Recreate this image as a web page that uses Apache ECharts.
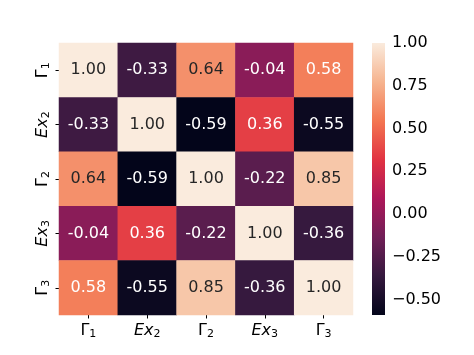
<!DOCTYPE html>
<html><head><meta charset="utf-8">
<script src="https://cdn.jsdelivr.net/npm/echarts@6/dist/echarts.min.js"></script>
<style>html,body{margin:0;padding:0;background:#fff}#c{width:474px;height:355px}</style>
</head><body><div id="c"></div>
<script>
const labels = ['{g|Γ}{s|1}', '{i|Ex}{s|2}', '{g|Γ}{s|2}', '{i|Ex}{s|3}', '{g|Γ}{s|3}'];
const row0 = [1.00, -0.33, 0.64, -0.04, 0.58];
const row1 = [-0.33, 1.00, -0.59, 0.36, -0.55];
const row2 = [0.64, -0.59, 1.00, -0.22, 0.85];
const row3 = [-0.04, 0.36, -0.22, 1.00, -0.36];
const row4 = [0.58, -0.55, 0.85, -0.36, 1.00];
const matrix = [row0, row1, row2, row3, row4];
const cbTicks = [-0.5, -0.25, 0, 0.25, 0.5, 0.75, 1.0];
const vmin = -0.59, vmax = 1.00;
const rocket = ['#03051a', '#35193e', '#701f57', '#ad1759', '#e13342', '#f37651', '#f6b48f', '#faebdd'];

const data = [];
matrix.forEach((row, r) => row.forEach((v, c) => { data.push([c, r, v]); }));
const rich = {
  g: { fontSize: 16, fontFamily: 'DejaVu Sans', color: '#000' },
  i: { fontSize: 16, fontFamily: 'DejaVu Sans', fontStyle: 'italic', color: '#000' },
  s: { fontSize: 11, fontFamily: 'DejaVu Sans', color: '#000', padding: [7, 0, 0, 0] }
};
const stops = rocket.map((c, i) => ({ offset: 1 - i / (rocket.length - 1), color: c }));
const chart = echarts.init(document.getElementById('c'));
chart.setOption({
  animation: false,
  textStyle: { fontFamily: 'DejaVu Sans' },
  grid: [
    { left: 59, top: 43, width: 294, height: 272 },
    { left: 372, top: 43, width: 13, height: 272 }
  ],
  xAxis: [
    { type: 'category', gridIndex: 0, data: labels, position: 'bottom',
      axisLine: { show: false }, splitArea: { show: false },
      axisTick: { show: true, length: 3.5, alignWithLabel: true, interval: 0, lineStyle: { color: '#000', width: 1 } },
      axisLabel: { margin: 7, interval: 0, rich: rich, formatter: v => v } },
    { type: 'value', gridIndex: 1, show: false, min: 0, max: 1 }
  ],
  yAxis: [
    { type: 'category', gridIndex: 0, data: labels, inverse: true,
      axisLine: { show: false },
      axisTick: { show: true, length: 3.5, alignWithLabel: true, interval: 0, lineStyle: { color: '#000', width: 1 } },
      axisLabel: { margin: 7, rotate: 90, interval: 0, rich: rich, formatter: v => v } },
    { type: 'value', gridIndex: 1, position: 'right', min: vmin, max: vmax,
      axisLine: { show: false }, splitLine: { show: false },
      axisTick: { show: true, length: 3.5, customValues: cbTicks, lineStyle: { color: '#000' } },
      axisLabel: { show: true, customValues: cbTicks, margin: 7, fontSize: 16, color: '#000', fontFamily: 'DejaVu Sans',
        formatter: v => v.toFixed(2).replace('-', '\u2212') } }
  ],
  visualMap: {
    type: 'continuous', min: vmin, max: vmax, seriesIndex: 0, show: false,
    inRange: { color: rocket }
  },
  series: [{
    type: 'heatmap', xAxisIndex: 0, yAxisIndex: 0, data: data,
    label: { show: false },
    emphasis: { disabled: true }
  }, {
    type: 'custom', xAxisIndex: 0, yAxisIndex: 0, data: data, silent: true, z: 5,
    renderItem: (params, api) => {
      const v = api.value(2);
      const p = api.coord([api.value(0), api.value(1)]);
      return { type: 'text', x: p[0], y: p[1],
        style: { text: v.toFixed(2), fill: v > 0.6 ? '#262626' : '#ffffff',
          font: '16px "DejaVu Sans"', align: 'center', verticalAlign: 'middle' } };
    }
  }, {
    type: 'custom', xAxisIndex: 1, yAxisIndex: 1, data: [[0, vmin, vmax]], silent: true,
    renderItem: (params, api) => {
      const p0 = api.coord([0, api.value(2)]);
      const p1 = api.coord([1, api.value(1)]);
      return { type: 'rect', shape: { x: p0[0], y: p0[1], width: p1[0] - p0[0], height: p1[1] - p0[1] },
        style: { fill: new echarts.graphic.LinearGradient(0, 0, 0, 1, stops) } };
    }
  }]
});
</script></body></html>
